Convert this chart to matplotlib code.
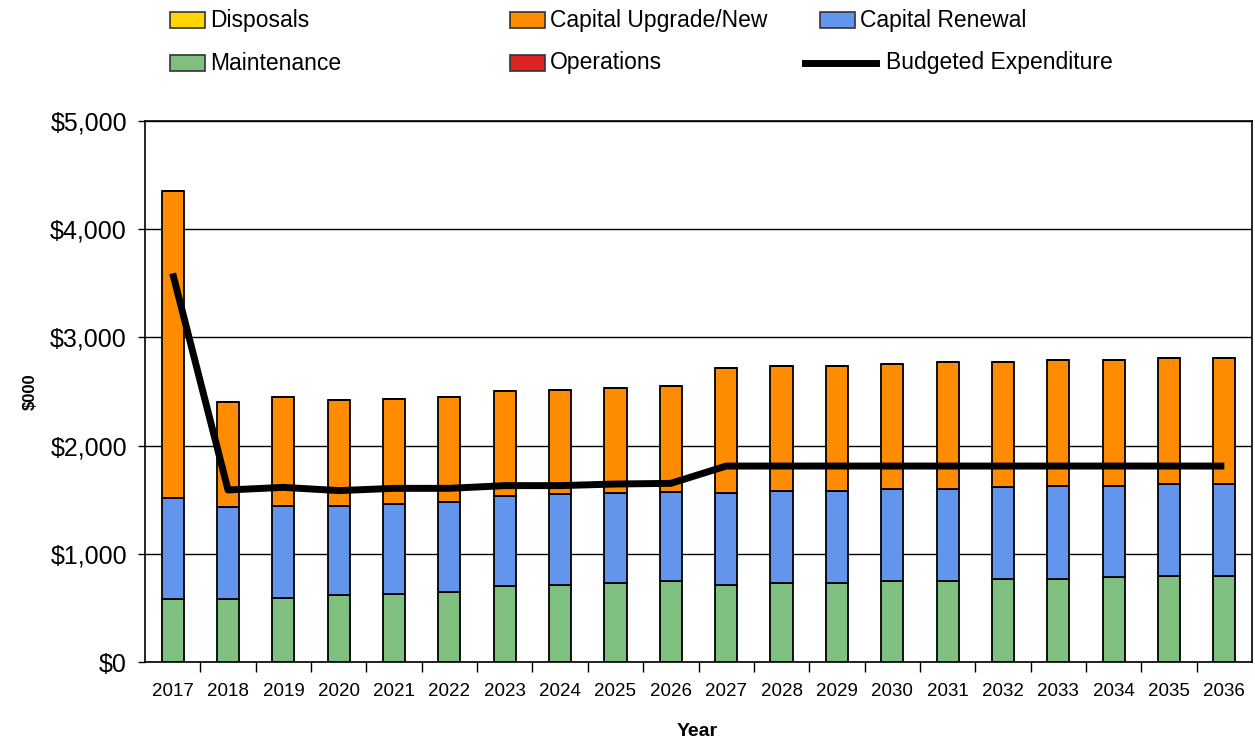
import matplotlib
matplotlib.use("Agg")
import matplotlib.pyplot as plt
import numpy as np
from matplotlib.patches import Rectangle
from matplotlib.lines import Line2D
from matplotlib.ticker import FuncFormatter, FixedLocator

plt.rcParams['font.family'] = ['Liberation Sans', 'DejaVu Sans']

years = [str(y) for y in range(2017, 2037)]

# Expenditure components ($000)
maintenance = [579, 579, 594, 616, 628, 647, 700, 715, 733, 746,
               715, 733, 733, 746, 746, 767, 770, 786, 798, 798]
capital_renewal = [934, 851, 851, 826, 832, 829, 831, 835, 832, 828,
                   844, 844, 844, 850, 850, 848, 860, 844, 847, 847]
capital_upgrade = [2843, 970, 1001, 979, 971, 976, 971, 967, 970, 977,
                   1161, 1162, 1162, 1161, 1177, 1157, 1158, 1158, 1162, 1162]
operations = [0] * 20
disposals = [0] * 20
budgeted = [3592, 1590, 1614, 1584, 1605, 1605, 1630, 1630, 1645, 1651,
            1811, 1811, 1811, 1811, 1811, 1811, 1811, 1811, 1811, 1811]

C_DISP = '#FFD700'
C_UPG = '#FF8C00'
C_REN = '#6495ED'
C_MAINT = '#7FBF7F'
C_OPS = '#DD2222'

W, H = 1255, 742
fig = plt.figure(figsize=(W / 100, H / 100), dpi=100)
ax = fig.add_axes([145 / W, 1 - 662 / H, (1252 - 145) / W, (662 - 121) / H])

x = np.arange(len(years))
bw = 0.4
edge = dict(edgecolor='black', linewidth=1.3)
b0 = np.zeros(len(years))
ax.bar(x, maintenance, bw, bottom=b0, color=C_MAINT, zorder=3, **edge)
b0 = b0 + np.array(maintenance)
ax.bar(x, operations, bw, bottom=b0, color=C_OPS, zorder=3, **edge)
b0 = b0 + np.array(operations)
ax.bar(x, capital_renewal, bw, bottom=b0, color=C_REN, zorder=3, **edge)
b0 = b0 + np.array(capital_renewal)
ax.bar(x, capital_upgrade, bw, bottom=b0, color=C_UPG, zorder=3, **edge)
b0 = b0 + np.array(capital_upgrade)
ax.bar(x, disposals, bw, bottom=b0, color=C_DISP, zorder=3, **edge)

ax.plot(x, budgeted, color='black', linewidth=5, zorder=4,
        solid_capstyle='butt')

ax.set_xlim(-0.5, len(years) - 0.5)
ax.set_ylim(0, 5000)
ax.set_yticks(range(0, 5001, 1000))
ax.yaxis.set_major_formatter(FuncFormatter(lambda v, p: f"${v:,.0f}"))
ax.tick_params(axis='y', length=5, width=1, pad=8, labelsize=18,
               colors='black')
ax.set_xticks(x)
ax.set_xticklabels(years)
ax.tick_params(axis='x', which='major', length=0, pad=15, labelsize=13.5)
ax.xaxis.set_minor_locator(FixedLocator(np.arange(0.5, len(years) - 0.5, 1)))
ax.tick_params(axis='x', which='minor', length=7, width=1, direction='out')

ax.grid(axis='y', color='black', linewidth=1, zorder=0)
for s in ax.spines.values():
    s.set_color('black')
    s.set_linewidth(1.2)

ax.set_ylabel('$000', fontsize=12, fontweight='bold', va='center')
ax.yaxis.set_label_coords((30 - 145) / (1252 - 145), 0.5)
ax.set_xlabel('Year', fontsize=14, fontweight='bold', va='center')
ax.xaxis.set_label_coords((697 - 145) / (1252 - 145),
                          -(732 - 662) / (662 - 121))


# Legend drawn in figure pixel coordinates
def fx(px):
    return px / W


def fy(py):
    return 1 - py / H


def legend_patch(px, py, color, label):
    fig.add_artist(Rectangle((fx(px), fy(py + 8)), 35 / W, 16 / H,
                             facecolor=color, edgecolor='#333333',
                             linewidth=1.2, transform=fig.transFigure))
    fig.text(fx(px + 40), fy(py), label, fontsize=16.5, va='center',
             ha='left')


legend_patch(170, 20, C_DISP, 'Disposals')
legend_patch(510, 20, C_UPG, 'Capital Upgrade/New')
legend_patch(820, 20, C_REN, 'Capital Renewal')
legend_patch(170, 63, C_MAINT, 'Maintenance')
legend_patch(510, 63, C_OPS, 'Operations')
fig.add_artist(Line2D([fx(805), fx(876)], [fy(63), fy(63)], color='black',
                      linewidth=5, transform=fig.transFigure))
fig.text(fx(886), fy(63), 'Budgeted Expenditure', fontsize=16.5,
         va='center', ha='left')

fig.savefig('out.png', dpi=100)
